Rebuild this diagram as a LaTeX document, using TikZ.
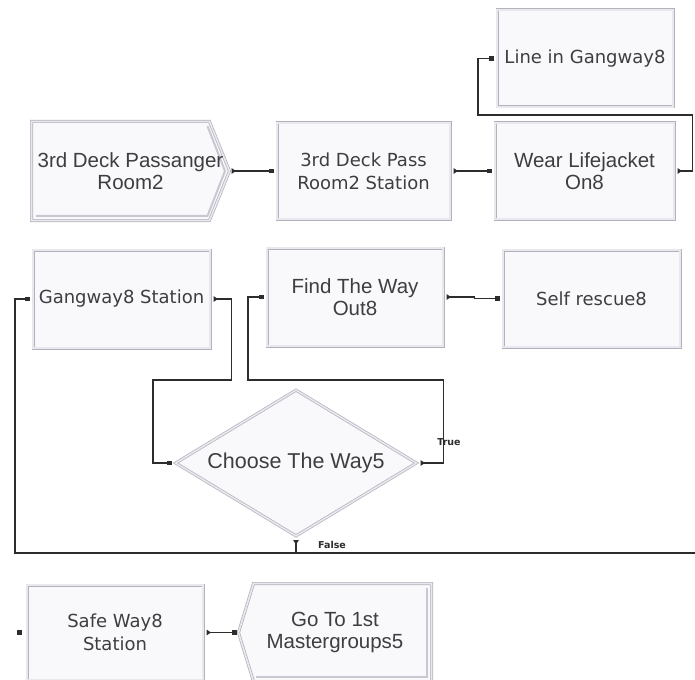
\documentclass[tikz,border=0pt]{standalone}
\usepackage{fontspec}
\setmainfont{Liberation Sans}
\newfontfamily\spacedfont{DejaVu Sans}
\usetikzlibrary{arrows.meta,shapes.geometric,calc,backgrounds}

\definecolor{lc}{RGB}{45,45,45}
\definecolor{txt}{RGB}{62,62,66}
\definecolor{edge}{RGB}{178,178,188}
\definecolor{bevelgray}{RGB}{200,200,208}
\definecolor{band}{RGB}{232,232,238}
\definecolor{boxfill}{RGB}{249,249,252}

\tikzset{
  boxline/.style={draw=edge, double=band, double distance=1.6pt, line width=.7pt, fill=boxfill},
  bevelline/.style={draw=bevelgray, line width=2pt},
  % darker inner edge on the right and bottom of a module
  bevel/.style={append after command={\pgfextra{
      \draw[bevelline] ($(\tikzlastnode.north east)+(-4.6,4.6)$)
          |- ($(\tikzlastnode.south west)+(4.6,-4.6)$);}}},
  box/.style={rectangle, boxline, inner sep=1pt, outer sep=1.5pt, bevel},
  shapeonly/.style={rectangle, draw=none, inner sep=1pt, outer sep=1.5pt},
  dia/.style={diamond, boxline, aspect=1.646, minimum width=242pt, minimum height=147pt, inner sep=0pt, outer sep=1.5pt},
  arial/.style={font=\fontsize{20.5}{22.5}\selectfont, text=txt, align=center},
  spaced/.style={font=\spacedfont\fontsize{18}{23}\selectfont, text=txt, align=center},
  lab/.style={font=\spacedfont\bfseries\fontsize{9.5}{11}\selectfont, text=lc, inner sep=0pt},
  wire/.style={draw=lc, line width=1.1pt},
  conn/.style={wire, {Triangle[reversed,length=4.5pt,width=5.5pt]}-{Square[length=4.5pt,width=4.5pt]},
               shorten <=2pt, shorten >=2pt},
}

\begin{document}
\begin{tikzpicture}[x=1pt,y=-1pt]
\useasboundingbox (0,0) rectangle (695,679);

% modules
\node[box,spaced,minimum width=176pt,minimum height=97pt] (line) at (585,58.5) {Line in Gangway8};
\node[shapeonly,arial,minimum width=195pt,minimum height=96pt] (room) at (130.5,171) {3rd Deck Passanger\\Room2};
\node[box,spaced,minimum width=173pt,minimum height=96pt] (station) at (363.5,171) {3rd Deck Pass\\Room2 Station};
\node[box,arial,minimum width=179pt,minimum height=96pt] (wear) at (584.5,171) {Wear Lifejacket\\On8};
\node[box,spaced,minimum width=177pt,minimum height=98pt] (gang) at (121.5,299) {Gangway8 Station};
\node[box,arial,minimum width=176pt,minimum height=98pt] (find) at (355,297) {Find The Way\\Out8};
\node[box,spaced,minimum width=177pt,minimum height=97pt] (self) at (591.5,298.5) {Self rescue8};
\node[dia,arial,font=\fontsize{21.5}{24}\selectfont] (choose) at (296,463) {Choose The Way5};
\node[box,spaced,minimum width=176pt,minimum height=95pt] (safe) at (115,632.5) {Safe Way8\\Station};
\node[shapeonly,arial,minimum width=190pt,minimum height=95pt] (goto) at (335,632.5) {Go To 1st\\Mastergroups5};

% outlines of the create and dispose modules, behind their text
\begin{pgfonlayer}{background}
  \fill[white] (0,0) rectangle (695,679);
  \path[boxline] (room.north west) -- ($(room.north east)+(-20,0)$) -- (room.east)
        -- ($(room.south east)+(-20,0)$) -- (room.south west) -- cycle;
  \draw[bevelline] ($(room.north east)+(-22,4.6)$) -- ($(room.east)+(-4.5,0)$)
        -- ($(room.south east)+(-22,-4.6)$) -- ($(room.south west)+(4.6,-4.6)$);
  \path[boxline] ($(goto.north west)+(15,0)$) -- (goto.north east) -- (goto.south east)
        -- ($(goto.south west)+(15,0)$) -- (goto.west) -- cycle;
  \draw[bevelline] ($(goto.north east)+(-4.6,4.6)$)
        |- ($(goto.south west)+(17,-4.6)$);
\end{pgfonlayer}

% connectors
\draw[conn] (room.east) -- (station.west);
\draw[conn] (station.east) -- (wear.west);
\draw[conn] (wear.east) -- ++(17,0) |- (478,115) |- (line.west);
\draw[conn] (gang.east) -- ++(20,0) |- (153,380) |- (choose.west);
\draw[conn] (choose.east) -- ++(25,0) |- (248,380) |- (find.west);
\draw[conn] (find.east) -- ++(30,0) |- (self.west);
\draw[conn] (choose.south) |- (15,553) |- (gang.west);
\draw[wire] (choose.south |- 0,553) -- (695,553);
\draw[conn] (safe.east) -- (goto.west);
\fill[lc] ($(safe.west)+(-9,-2.5)$) rectangle +(5,5);

% branch labels
\node[lab] (truelab) at (449,442) {True};
\node[lab] (falselab) at (332,545) {False};
\end{tikzpicture}
\end{document}
